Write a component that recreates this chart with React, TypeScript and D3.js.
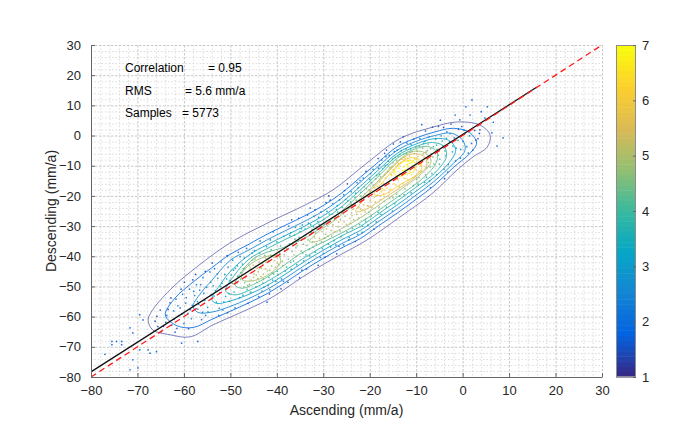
import React, { useEffect, useRef } from "react";
import * as d3 from "d3";

// axis ticks
const xTicks = [-80, -70, -60, -50, -40, -30, -20, -10, 0, 10, 20, 30];
const yTicks = [-80, -70, -60, -50, -40, -30, -20, -10, 0, 10, 20, 30];
const cbTicks = [1, 2, 3, 4, 5, 6, 7];

// statistics text
const statLabels = ["Correlation", "RMS", "Samples"];
const statValues = ["= 0.95", "= 5.6 mm/a", "= 5773"];

// lines (data units)
const fitLine: [number, number][] = [[-80, -78.3], [16, 16.1]];
const oneToOne: [number, number][] = [[-80, -80], [30, 30]];

// parula colormap stops
const parula = ["#352a87", "#0363e1", "#1485d4", "#06a7c6", "#38b99e", "#92bf73", "#d9ba56", "#fcce2e", "#f9fb0e"];

// density contour levels and rings
const levels = [1.1, 1.9, 2.5, 3.1, 3.7, 4.3, 4.9, 5.5, 6.1, 6.7];
const c1 = [[-67.7,-61.1],[-66.7,-57.7],[-62.3,-50.1],[-57.2,-43.5],[-50.1,-35.6],[-41.5,-28.6],[-33.9,-23.0],[-27.9,-18.0],[-20.6,-9.1],[-13.5,-1.0],[-6.4,2.8],[-1.2,4.5],[3.7,3.5],[5.9,0.2],[5.3,-3.8],[2.2,-7.1],[-1.2,-11.4],[-6.4,-19.0],[-13.5,-27.0],[-20.6,-34.6],[-28.3,-41.2],[-34.4,-46.8],[-40.8,-53.4],[-46.4,-57.7],[-53.7,-62.7],[-58.7,-66.7],[-63.0,-66.0],[-66.7,-64.4]];
const c2 = [[-64.0,-59.5],[-62.0,-54.0],[-58.0,-48.5],[-54.0,-43.8],[-50.0,-39.3],[-46.0,-36.0],[-42.0,-32.6],[-38.0,-29.6],[-34.0,-26.6],[-30.0,-23.2],[-26.0,-19.0],[-22.0,-13.8],[-18.0,-8.6],[-14.0,-3.6],[-10.0,-0.8],[-6.0,1.2],[-2.0,2.4],[1.5,1.0],[3.0,-2.5],[1.5,-6.0],[-2.0,-10.6],[-6.0,-16.4],[-10.0,-21.1],[-14.0,-25.6],[-18.0,-29.8],[-22.0,-34.1],[-26.0,-37.2],[-30.0,-40.7],[-34.0,-44.4],[-38.0,-48.5],[-42.0,-52.3],[-46.0,-55.4],[-50.0,-58.2],[-54.0,-60.9],[-58.0,-63.6],[-61.5,-63.0]];
const c3 = [[-58.0,-56.5],[-56.0,-51.5],[-54.0,-48.0],[-50.0,-41.3],[-46.0,-37.9],[-42.0,-34.5],[-38.0,-31.4],[-34.0,-28.4],[-30.0,-25.0],[-26.0,-20.7],[-22.0,-15.4],[-18.0,-10.0],[-14.0,-4.8],[-10.0,-1.9],[-6.0,0.0],[-2.5,0.8],[0.0,-1.5],[0.5,-5.0],[-2.0,-9.2],[-6.0,-15.0],[-10.0,-19.7],[-14.0,-24.2],[-18.0,-28.4],[-22.0,-32.7],[-26.0,-35.8],[-30.0,-39.3],[-34.0,-43.0],[-38.0,-47.1],[-42.0,-50.9],[-46.0,-54.0],[-50.0,-56.6],[-54.0,-58.5],[-57.0,-58.6]];
const c4 = [[-54.0,-54.2],[-52.0,-49.0],[-50.0,-45.0],[-46.0,-39.6],[-42.0,-36.1],[-38.0,-33.0],[-34.0,-30.0],[-30.0,-26.6],[-26.0,-22.2],[-22.0,-16.8],[-18.0,-11.2],[-14.0,-5.8],[-10.0,-2.8],[-6.0,-1.0],[-3.0,-1.6],[-1.5,-4.5],[-2.5,-8.2],[-6.0,-13.7],[-10.0,-18.4],[-14.0,-22.9],[-18.0,-27.1],[-22.0,-31.4],[-26.0,-34.5],[-30.0,-38.0],[-34.0,-41.7],[-38.0,-45.8],[-42.0,-49.6],[-46.0,-52.6],[-50.0,-54.8],[-53.0,-55.6]];
const c5 = [[-51.0,-51.5],[-49.0,-46.0],[-46.0,-41.0],[-42.0,-37.4],[-38.0,-34.3],[-34.0,-31.3],[-30.0,-27.9],[-26.0,-23.5],[-22.0,-18.0],[-18.0,-12.3],[-14.0,-6.6],[-10.0,-3.6],[-6.5,-2.3],[-4.0,-3.6],[-3.5,-7.0],[-6.0,-12.4],[-10.0,-17.1],[-14.0,-21.6],[-18.0,-25.8],[-22.0,-30.1],[-26.0,-33.2],[-30.0,-36.7],[-34.0,-40.4],[-38.0,-44.5],[-42.0,-48.3],[-46.0,-51.3],[-49.0,-52.8]];
const c6 = [[-49.0,-49.5],[-47.5,-45.0],[-45.0,-40.8],[-42.0,-38.6],[-39.0,-37.3],[-36.0,-35.4],[-33.0,-33.2],[-30.0,-29.8],[-26.0,-25.0],[-22.0,-19.2],[-18.0,-13.3],[-14.0,-7.4],[-10.0,-4.3],[-7.5,-3.6],[-5.5,-5.5],[-5.7,-9.0],[-8.0,-13.4],[-12.0,-18.2],[-16.0,-22.5],[-20.0,-26.8],[-24.0,-30.6],[-28.0,-33.8],[-32.0,-36.8],[-35.0,-39.2],[-38.0,-42.5],[-42.0,-46.8],[-45.0,-49.3],[-47.5,-50.6]];
const c7a = [[-39.5,-40.1],[-41.3,-39.8],[-44.0,-41.05],[-46.35,-43.45],[-47.6,-46.1],[-47.3,-47.9],[-45.5,-48.2],[-42.85,-46.95],[-40.45,-44.55],[-39.2,-41.9]];
const c7b = [[-33.0,-35.2],[-31.0,-31.8],[-28.0,-28.6],[-24.0,-23.6],[-20.0,-17.9],[-16.0,-11.5],[-13.0,-7.2],[-10.5,-5.2],[-8.0,-5.8],[-6.8,-8.5],[-8.8,-12.6],[-12.0,-16.4],[-16.0,-20.8],[-20.0,-25.2],[-24.0,-29.1],[-28.0,-32.4],[-31.0,-34.9]];
const c8 = [[-23.0,-25.2],[-21.0,-20.6],[-18.0,-15.2],[-15.0,-10.4],[-12.5,-7.0],[-10.0,-6.0],[-8.0,-7.4],[-7.8,-10.2],[-9.5,-12.9],[-12.0,-15.8],[-15.0,-18.8],[-18.0,-21.8],[-21.0,-24.6]];
const c9 = [[-19.0,-19.6],[-17.0,-15.0],[-15.0,-11.6],[-13.0,-8.6],[-11.0,-7.3],[-9.3,-8.0],[-8.8,-10.5],[-10.0,-13.2],[-12.0,-15.0],[-14.5,-17.3],[-17.0,-19.6]];
const c10 = [[-14.8,-12.4],[-14.0,-10.2],[-12.6,-8.6],[-11.0,-8.2],[-10.0,-9.6],[-10.4,-11.6],[-12.3,-12.9],[-13.8,-13.5]];
const contourRings = [[c1], [c2], [c3], [c4], [c5], [c6], [c7a, c7b], [c8], [c9], [c10]];

// samples (ascending, descending)
const cloud = [
[-66.2,-61.5],[-65.1,-57.8],[-64.4,-63.2],[-63.7,-59.6],[-63.0,-55.4],[-62.6,-62.8],[-65.8,-59.9],[-62.2,-58.1],[-64.9,-65.0],
[-61.7,-54.2],[-61.2,-59.8],[-60.8,-57.1],[-60.3,-52.6],[-60.0,-62.3],[-59.6,-55.5],[-59.1,-58.9],[-58.8,-50.9],[-58.4,-60.7],[-61.5,-63.9],[-59.9,-48.6],[-58.2,-56.3],
[-57.7,-53.0],[-57.3,-49.4],[-57.0,-57.5],[-56.6,-51.2],[-56.2,-61.0],[-55.9,-47.1],[-55.5,-54.6],[-55.1,-50.3],[-54.8,-58.4],[-54.4,-45.2],[-54.1,-52.7],[-56.8,-55.9],[-55.3,-59.6],[-57.5,-46.0],
[-53.7,-49.8],[-53.4,-44.1],[-53.0,-55.2],[-52.7,-47.3],[-52.3,-52.1],[-52.0,-41.9],[-51.6,-57.8],[-51.2,-46.0],[-50.9,-50.7],[-50.5,-43.6],[-50.2,-54.9],[-53.2,-51.4],[-52.5,-59.6],[-51.8,-48.9],[-50.7,-39.8],[-51.0,-53.3],
[-49.8,-46.2],[-49.5,-41.3],[-49.2,-51.8],[-48.9,-44.0],[-48.6,-48.9],[-48.3,-38.7],[-48.0,-53.7],[-47.7,-45.4],[-47.4,-42.6],[-47.1,-50.2],[-46.8,-47.1],[-46.5,-37.4],[-46.2,-55.6],[-49.0,-57.1],[-47.9,-40.1],[-48.4,-46.6],[-46.9,-44.0],[-46.3,-49.6],[-49.6,-49.0],[-47.3,-52.9],
[-45.8,-44.6],[-45.5,-47.9],[-45.2,-41.2],[-44.9,-45.8],[-44.6,-43.3],[-44.3,-48.6],[-44.0,-45.1],[-43.7,-39.0],[-43.4,-46.7],[-43.1,-42.5],[-42.8,-50.3],[-42.5,-44.2],[-42.2,-36.8],[-45.6,-51.9],[-44.8,-38.1],[-43.9,-53.4],[-42.9,-47.5],[-45.1,-43.0],[-44.4,-46.2],[-43.3,-44.0],[-42.4,-40.6],[-45.9,-49.4],[-43.6,-34.9],[-42.1,-55.2],
[-41.8,-41.4],[-41.5,-44.7],[-41.2,-37.8],[-40.9,-47.9],[-40.6,-40.3],[-40.3,-43.6],[-40.0,-35.2],[-39.7,-46.1],[-39.4,-38.9],[-39.1,-50.8],[-38.8,-41.7],[-38.5,-33.4],[-38.2,-44.9],[-41.6,-52.5],[-40.8,-31.9],[-39.9,-42.2],[-39.2,-36.6],[-38.6,-48.3],[-41.0,-45.5],[-40.1,-39.6],[-38.3,-38.1],[-41.4,-34.6],
[-37.8,-37.6],[-37.5,-40.9],[-37.2,-33.1],[-36.9,-44.3],[-36.6,-36.2],[-36.3,-39.5],[-36.0,-30.4],[-35.7,-42.8],[-35.4,-35.0],[-35.1,-47.1],[-34.8,-38.3],[-34.5,-29.6],[-34.2,-41.5],[-37.6,-48.6],[-36.8,-27.9],[-35.9,-37.1],[-35.2,-33.7],[-34.6,-44.6],[-37.0,-42.0],[-36.1,-34.4],[-34.3,-36.0],[-37.4,-30.0],
[-33.8,-33.1],[-33.5,-36.4],[-33.2,-29.0],[-32.9,-39.9],[-32.6,-32.0],[-32.3,-35.2],[-32.0,-26.7],[-31.7,-38.6],[-31.4,-30.9],[-31.1,-43.0],[-30.8,-34.1],[-30.5,-25.3],[-30.2,-37.4],[-33.6,-44.2],[-32.8,-24.0],[-31.9,-33.6],[-31.2,-28.5],[-30.6,-40.4],[-33.0,-37.6],[-32.1,-30.2],[-30.3,-31.8],[-33.4,-26.3],[-31.5,-35.9],[-30.9,-29.4],
[-29.8,-29.4],[-29.5,-32.7],[-29.2,-25.1],[-28.9,-36.0],[-28.6,-28.3],[-28.3,-31.4],[-28.0,-22.6],[-27.7,-34.8],[-27.4,-26.9],[-27.1,-39.2],[-26.8,-30.2],[-26.5,-21.3],[-26.2,-33.5],[-29.6,-40.3],[-28.8,-20.0],[-27.9,-29.6],[-27.2,-24.5],[-26.6,-36.7],[-29.0,-33.4],[-28.1,-26.0],[-26.3,-27.8],[-29.4,-22.2],[-27.5,-31.9],[-26.9,-25.4],
[-25.8,-25.3],[-25.5,-28.6],[-25.2,-21.1],[-24.9,-31.9],[-24.6,-24.2],[-24.3,-27.4],[-24.0,-18.6],[-23.7,-30.8],[-23.4,-22.9],[-23.1,-35.1],[-22.8,-26.1],[-22.5,-17.3],[-22.2,-29.5],[-25.6,-36.2],[-24.8,-16.0],[-23.9,-25.6],[-23.2,-20.5],[-22.6,-32.7],[-25.0,-29.4],[-24.1,-22.0],[-22.3,-23.8],[-25.4,-18.2],[-23.5,-27.9],[-22.9,-21.4],[-24.4,-33.8],[-22.1,-14.9],
[-21.8,-21.2],[-21.5,-24.6],[-21.2,-17.0],[-20.9,-27.8],[-20.6,-20.1],[-20.3,-23.4],[-20.0,-14.5],[-19.7,-26.7],[-19.4,-18.8],[-19.1,-31.0],[-18.8,-22.0],[-18.5,-13.2],[-18.2,-25.4],[-21.6,-32.1],[-20.8,-11.9],[-19.9,-21.5],[-19.2,-16.4],[-18.6,-28.6],[-21.0,-25.3],[-20.1,-17.9],[-18.3,-19.7],[-21.4,-14.1],[-19.5,-23.8],[-18.9,-17.3],[-20.4,-29.7],[-18.1,-10.8],[-19.8,-12.6],[-21.9,-18.8],
[-17.8,-15.2],[-17.5,-18.6],[-17.2,-11.0],[-16.9,-21.8],[-16.6,-14.1],[-16.3,-17.4],[-16.0,-8.5],[-15.7,-20.7],[-15.4,-12.8],[-15.1,-25.0],[-14.8,-16.0],[-14.5,-7.2],[-14.2,-19.4],[-17.6,-26.1],[-16.8,-5.9],[-15.9,-15.5],[-15.2,-10.4],[-14.6,-22.6],[-17.0,-19.3],[-16.1,-11.9],[-14.3,-13.7],[-17.4,-8.1],[-15.5,-17.8],[-14.9,-11.3],[-16.4,-23.7],[-14.1,-4.8],[-15.8,-6.6],[-17.9,-12.8],[-15.0,-9.0],[-16.7,-10.0],
[-13.8,-9.2],[-13.5,-12.6],[-13.2,-5.0],[-12.9,-15.8],[-12.6,-8.1],[-12.3,-11.4],[-12.0,-2.5],[-11.7,-14.7],[-11.4,-6.8],[-11.1,-19.0],[-10.8,-10.0],[-10.5,-1.2],[-10.2,-13.4],[-13.6,-20.1],[-12.8,-0.4],[-11.9,-9.5],[-11.2,-4.4],[-10.6,-16.6],[-13.0,-13.3],[-12.1,-5.9],[-10.3,-7.7],[-13.4,-2.1],[-11.5,-11.8],[-10.9,-5.3],[-12.4,-17.7],[-10.1,-3.8],[-11.8,-7.6],[-13.9,-6.8],[-11.0,-8.9],[-12.7,-10.4],
[-9.8,-5.2],[-9.5,-8.6],[-9.2,-1.0],[-8.9,-11.8],[-8.6,-4.1],[-8.3,-7.4],[-8.0,1.5],[-7.7,-10.7],[-7.4,-2.8],[-7.1,-15.0],[-6.8,-6.0],[-6.5,2.8],[-6.2,-9.4],[-9.6,-16.1],[-8.8,3.6],[-7.9,-5.5],[-7.2,-0.4],[-6.6,-12.6],[-9.0,-9.3],[-8.1,-1.9],[-6.3,-3.7],[-9.4,-13.9],[-7.5,-7.8],[-6.9,-17.3],
[-5.8,-1.2],[-5.5,-4.6],[-5.2,3.0],[-4.9,-7.8],[-4.6,-0.1],[-4.3,-3.4],[-4.0,-11.2],[-3.7,-6.7],[-3.4,1.2],[-3.1,-9.6],[-2.8,-2.0],[-2.5,3.8],[-2.2,-5.4],[-5.6,-12.9],[-4.8,5.1],[-3.9,-14.3],
[-1.8,-0.8],[-1.4,-4.2],[-0.9,2.1],[-0.5,-7.5],[0.1,-1.9],[0.6,0.9],[1.2,-5.8],[1.9,-2.6],[2.6,1.7],[3.3,-1.0],
[-47.2,-44.1],[-46.6,-46.8],[-46.0,-42.9],[-45.4,-45.3],[-44.7,-40.9],[-44.1,-47.4],[-43.5,-43.6],[-42.9,-45.9],[-42.3,-42.0],[-41.7,-47.0],[-41.1,-43.2],[-40.5,-41.4],[-39.9,-45.0],[-39.3,-40.0],[-38.7,-43.1],[-46.9,-48.8],[-45.7,-43.8],[-44.5,-50.2],[-43.8,-41.8],[-43.0,-48.9],[-42.0,-44.8],[-41.3,-39.6],[-40.2,-48.3],[-39.6,-42.7],[-47.8,-47.6],[-45.0,-47.0],[-44.2,-44.0],[-42.6,-39.7],[-41.9,-49.6],[-40.7,-45.8],[-48.5,-43.2],[-47.0,-40.6],[-45.3,-38.9],[-43.2,-51.5],[-41.5,-51.1],[-39.0,-47.5],[-38.4,-39.5],[-46.4,-51.0],[-50.1,-48.0],[-49.3,-44.6],
[-37.3,-35.9],[-36.7,-38.4],[-36.2,-33.0],[-35.6,-36.6],[-35.0,-31.8],[-34.4,-38.9],[-33.9,-31.0],[-33.3,-34.6],[-32.7,-29.6],[-32.2,-37.0],[-31.6,-32.4],[-31.0,-27.1],[-30.4,-35.2],[-29.9,-27.8],[-29.3,-30.9],[-28.7,-26.0],[-28.2,-33.3],[-27.6,-27.9],[-27.0,-23.2],[-26.4,-31.6],[-25.9,-23.8],[-25.3,-26.7],[-24.7,-21.6],[-24.2,-29.0],[-23.6,-24.4],[-23.0,-19.1],[-22.4,-27.3],[-21.9,-20.0],[-21.3,-22.9],[-20.7,-17.6],[-20.2,-25.4],[-36.4,-41.6],[-35.3,-27.4],[-33.1,-42.1],[-31.8,-24.6],[-30.0,-39.0],[-28.5,-21.4],[-27.3,-36.3],[-25.6,-19.6],[-24.5,-34.6],[-22.7,-15.6],[-21.6,-30.0],[-20.5,-23.2],[-37.9,-43.6],[-34.0,-34.2],[-32.4,-31.1],[-29.7,-34.0],[-26.7,-28.7],[-23.8,-26.5],[-21.1,-19.4],[-35.8,-40.0],[-34.7,-30.9],[-30.7,-30.3],[-28.4,-36.9],[-26.1,-25.6],[-24.0,-22.8],[-22.0,-24.4],[-37.0,-32.2],[-33.7,-39.5],[-20.9,-28.5],
[-19.6,-15.6],[-19.0,-20.4],[-18.4,-16.8],[-17.9,-9.8],[-17.3,-17.6],[-16.8,-13.0],[-16.2,-9.6],[-15.7,-14.9],[-15.1,-7.8],[-14.6,-12.0],[-14.0,-9.9],[-13.5,-6.3],[-12.9,-11.6],[-12.4,-7.4],[-11.8,-10.3],[-11.3,-5.5],[-10.7,-8.7],[-10.2,-11.2],[-9.6,-6.9],[-9.1,-9.8],[-8.5,-6.1],[-8.0,-12.9],[-7.4,-8.9],[-6.9,-4.4],[-19.3,-11.2],[-18.0,-23.8],[-17.0,-15.8],[-16.5,-7.0],[-15.9,-18.8],[-15.3,-13.2],[-14.7,-5.3],[-14.4,-16.4],[-13.7,-10.8],[-13.1,-7.8],[-12.5,-14.2],[-12.2,-4.4],[-11.6,-8.4],[-11.0,-12.9],[-10.4,-6.0],[-9.9,-14.6],[-9.3,-3.6],[-8.7,-8.2],[-8.2,-15.5],[-7.6,-5.0],[-7.0,-10.4],[-13.3,-9.0],[-12.0,-9.7],[-14.2,-8.2],[-11.4,-9.2],[-10.0,-8.0],[-15.6,-10.6],[-16.9,-18.1],[-18.7,-14.4],[-17.6,-21.2],[-13.9,-14.7],[-12.7,-6.2],[-11.1,-3.0],[-10.6,-13.9],[-9.4,-12.0],[-8.4,-2.6],[-15.0,-20.6],[-13.6,-17.0],[-12.6,-19.6],[-19.9,-18.6],[-18.2,-7.6],[-16.4,-4.8],[-14.9,-2.8],[-7.8,-13.8],[-6.4,-7.1],[-17.7,-13.6],
[-5.6,-3.2],[-5.0,-9.5],[-4.4,-1.8],[-3.8,-5.1],[-3.2,-12.1],[-2.7,0.6],[-2.1,-3.5],[-1.5,-8.4],[-1.0,-1.6],[-0.4,-4.6],[0.3,1.8],[0.9,-3.7],[1.5,-0.1],[2.2,-4.8],[2.9,-1.6],[3.6,0.7],[-4.1,2.7],[-5.3,-6.5],[-3.5,-0.9],[-0.2,3.0],
[-63.4,-57.6],[-62.1,-60.8],[-61.3,-56.4],[-60.4,-59.1],[-59.5,-53.7],[-58.6,-57.7],[-57.9,-51.6],[-57.1,-55.0],[-56.4,-49.4],[-55.7,-52.3],[-54.9,-56.9],[-54.2,-48.6],[-53.5,-53.2],[-52.8,-45.8],[-52.1,-50.0],[-51.4,-55.1],[-50.8,-47.5],[-50.3,-52.4],[-63.9,-61.9],[-61.9,-65.1],[-59.0,-64.0],[-56.0,-58.6],[-53.9,-42.2],[-55.4,-45.0],[-58.1,-47.8],[-60.6,-50.9],[-62.8,-53.8],[-52.4,-57.2],[-50.6,-58.7],[-65.6,-63.3]
];
const outliers = [
[-75.5,-68.2],[-74.5,-68.2],[-73.4,-68.2],[-75.5,-69.3],[-73.4,-69.3],[-71.0,-74.3],[-69.5,-71.0],[-67.7,-71.0],[-65.9,-71.6],[-69.9,-77.0],[-71.0,-65.4],[-68.8,-61.1],[-69.5,-59.4],[-71.6,-63.7],[-77.0,-72.5],[-60.5,-68.8],[-57.0,-68.2],[-67.3,-72.1],[-71.6,-77.6],
[2.0,11.8],[1.6,6.8],[5.3,9.5],[-1.6,6.8],[3.7,1.9],[8.7,-0.8],[6.3,0.9],[0.7,9.5],[4.8,5.8],[-0.6,5.2],[7.4,-3.5],[4.0,7.9],[6.6,4.4]
];

const W = 680;
const H = 429;
const plot = { left: 91, right: 602, top: 45, bottom: 377 };
const cb = { left: 616, right: 636 };
const FONT = "'Liberation Sans', Arial, Helvetica, sans-serif";

const App = () => {
  const svgRef = useRef(null);

  useEffect(() => {
    const svg = d3.select(svgRef.current);
    svg.selectAll("*").remove();

    const x = d3.scaleLinear().domain([-80, 30]).range([plot.left, plot.right]);
    const y = d3.scaleLinear().domain([-80, 30]).range([plot.bottom, plot.top]);
    const color = d3.scaleLinear<string>()
      .domain(parula.map((_, i) => 1 + (6 * i) / (parula.length - 1)))
      .range(parula)
      .interpolate(d3.interpolateRgb)
      .clamp(true);

    svg.append("defs").append("clipPath").attr("id", "plotclip")
      .append("rect")
      .attr("x", plot.left).attr("y", plot.top)
      .attr("width", plot.right - plot.left).attr("height", plot.bottom - plot.top);

    //grid: minor every 2, major every 10
    const minor = d3.range(-80, 30.01, 2).filter(v => v % 10 !== 0);
    const grid = svg.append("g");
    grid.selectAll(".mx").data(minor).join("line")
      .attr("x1", d => x(d) + 0.5).attr("x2", d => x(d) + 0.5)
      .attr("y1", plot.top).attr("y2", plot.bottom)
      .attr("stroke", "#dcdcdc").attr("stroke-dasharray", "1.5,2");
    grid.selectAll(".my").data(minor).join("line")
      .attr("y1", d => y(d) + 0.5).attr("y2", d => y(d) + 0.5)
      .attr("x1", plot.left).attr("x2", plot.right)
      .attr("stroke", "#dcdcdc").attr("stroke-dasharray", "1.5,2");
    grid.selectAll(".Mx").data(xTicks.slice(1)).join("line")
      .attr("x1", d => x(d) + 0.5).attr("x2", d => x(d) + 0.5)
      .attr("y1", plot.top).attr("y2", plot.bottom)
      .attr("stroke", "#c8c8c8").attr("stroke-dasharray", "2.5,1.5");
    grid.selectAll(".My").data(yTicks.slice(1)).join("line")
      .attr("y1", d => y(d) + 0.5).attr("y2", d => y(d) + 0.5)
      .attr("x1", plot.left).attr("x2", plot.right)
      .attr("stroke", "#c8c8c8").attr("stroke-dasharray", "2.5,1.5");

    const body = svg.append("g").attr("clip-path", "url(#plotclip)");

    //density value of a sample = highest contour ring holding it
    const density = (p) => {
      let v = 1.7;
      contourRings.forEach((rings, i) => {
        if (rings.some(r => d3.polygonContains(r, p))) v = levels[i] + 0.3;
      });
      return v;
    };

    body.selectAll(".pt").data(cloud.concat(outliers)).join("circle")
      .attr("cx", d => x(d[0])).attr("cy", d => y(d[1]))
      .attr("r", 0.85)
      .attr("fill", d => color(density(d)))
      .attr("opacity", 0.9);

    //contours
    const ringLine = d3.line()
      .x(d => x(d[0])).y(d => y(d[1]))
      .curve(d3.curveCatmullRomClosed.alpha(0.5));
    contourRings.forEach((rings, i) => {
      body.selectAll(".c" + i).data(rings).join("path")
        .attr("d", r => ringLine(r))
        .attr("fill", "none")
        .attr("stroke", color(levels[i]))
        .attr("stroke-width", 1)
        .attr("opacity", i === 0 ? 0.6 : 0.85);
    });

    //fit line and 1:1 line
    const seg = d3.line().x(d => x(d[0])).y(d => y(d[1]));
    body.append("path").attr("d", seg(fitLine))
      .attr("stroke", "#111").attr("stroke-width", 1.3).attr("fill", "none");
    body.append("path").attr("d", seg(oneToOne))
      .attr("stroke", "#ff1a1a").attr("stroke-width", 1.3)
      .attr("stroke-dasharray", "6,4").attr("fill", "none");

    //axes (ticks inside, no box)
    const axisColor = "#666";
    const xAxis = svg.append("g").attr("transform", `translate(0,${plot.bottom})`)
      .call(d3.axisBottom(x).tickValues(xTicks).tickSizeInner(-4).tickSizeOuter(0).tickPadding(9));
    const yAxis = svg.append("g").attr("transform", `translate(${plot.left},0)`)
      .call(d3.axisLeft(y).tickValues(yTicks).tickSizeInner(-4).tickSizeOuter(0).tickPadding(10));
    [xAxis, yAxis].forEach(a => {
      a.select(".domain").attr("stroke", axisColor);
      a.selectAll(".tick line").attr("stroke", axisColor);
      a.selectAll(".tick text").attr("fill", "#262626")
        .style("font-family", FONT).style("font-size", "13px");
    });

    svg.append("text")
      .attr("x", (plot.left + plot.right) / 2).attr("y", 415)
      .attr("text-anchor", "middle")
      .style("font-family", FONT).style("font-size", "14px").attr("fill", "#262626")
      .text("Ascending (mm/a)");
    svg.append("text")
      .attr("transform", `translate(56,${(plot.top + plot.bottom) / 2}) rotate(-90)`)
      .attr("text-anchor", "middle")
      .style("font-family", FONT).style("font-size", "14px").attr("fill", "#262626")
      .text("Descending (mm/a)");

    //statistics text
    const valueX = [208, 185, 182];
    const baseY = [72, 95, 117];
    const stats = svg.append("g").style("font-family", FONT).style("font-size", "12px").attr("fill", "#000");
    statLabels.forEach((s, i) => {
      stats.append("text").attr("x", 125).attr("y", baseY[i]).text(s);
      stats.append("text").attr("x", valueX[i]).attr("y", baseY[i]).text(statValues[i]);
    });

    //colorbar
    const cy = d3.scaleLinear().domain([1, 7]).range([plot.bottom, plot.top]);
    const bands = d3.range(64);
    const bh = (plot.bottom - plot.top) / 64;
    svg.append("g").selectAll("rect").data(bands).join("rect")
      .attr("x", cb.left).attr("width", cb.right - cb.left)
      .attr("y", i => plot.bottom - (i + 1) * bh).attr("height", bh + 0.5)
      .attr("fill", i => color(1 + (6 * i) / 63));
    svg.append("rect")
      .attr("x", cb.left + 0.5).attr("y", plot.top + 0.5)
      .attr("width", cb.right - cb.left - 1).attr("height", plot.bottom - plot.top - 1)
      .attr("fill", "none").attr("stroke", "#8c8c8c").attr("stroke-width", 1);
    const cbAxis = svg.append("g").attr("transform", `translate(${cb.right},0)`)
      .call(d3.axisRight(cy).tickValues(cbTicks).tickFormat(d3.format("d")).tickSizeInner(-3).tickSizeOuter(0).tickPadding(6));
    cbAxis.select(".domain").remove();
    cbAxis.selectAll(".tick line").attr("stroke", "#666");
    cbAxis.selectAll(".tick text").attr("fill", "#262626")
      .style("font-family", FONT).style("font-size", "13px");
  }, []);

  return (
    <div style={{ position: "absolute", left: 0, top: 0 }}>
      <svg ref={svgRef} width={W} height={H} style={{ display: "block", background: "#fff" }} />
    </div>
  );
};

export default App;
